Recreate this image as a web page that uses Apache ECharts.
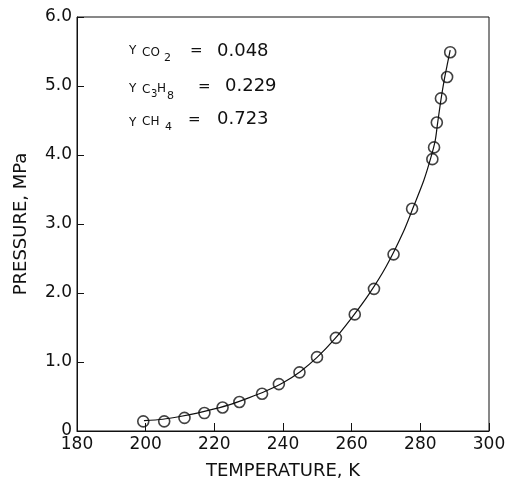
<!DOCTYPE html>
<html>
<head>
<meta charset="utf-8">
<script src="https://cdn.jsdelivr.net/npm/echarts@6/dist/echarts.min.js"></script>
<style>
  html, body { margin: 0; padding: 0; background: #fff; }
  #chart { width: 506px; height: 480px; }
</style>
</head>
<body>
<div id="chart"></div>
<script>
// measured points (temperature K, pressure MPa)
var tempK = [199.3, 205.4, 211.3, 217.1, 222.4, 227.3, 233.9, 238.8, 244.8, 249.9, 255.4,
             260.9, 266.5, 272.2, 277.6, 283.5, 284.0, 284.8, 286.0, 287.8, 288.7];
var pressMPa = [0.14, 0.14, 0.19, 0.26, 0.34, 0.42, 0.54, 0.68, 0.85, 1.07, 1.35,
                1.69, 2.06, 2.56, 3.22, 3.94, 4.11, 4.47, 4.82, 5.13, 5.49];

// fitted curve
var curveT = [199.5, 205, 210, 215, 220, 225, 230, 235, 240, 245, 250, 255, 260, 265, 270,
              275, 278, 281, 283, 284.3, 285, 286, 287, 288, 288.7];
var curveP = [0.15, 0.17, 0.21, 0.26, 0.32, 0.39, 0.48, 0.58, 0.70, 0.86, 1.07, 1.33, 1.64, 1.98, 2.38,
              2.88, 3.25, 3.63, 3.95, 4.20, 4.45, 4.80, 5.10, 5.35, 5.52];

var xTicks = [180, 200, 220, 240, 260, 280, 300];
var yTicks = [0, 1, 2, 3, 4, 5, 6];
var fractions = ['0.048', '0.229', '0.723'];

var font = 'DejaVu Sans';
var ink = '#111';

var chart = echarts.init(document.getElementById('chart'));

function txt(s, x, y, size) {
    return {
        type: 'text', left: x, top: y,
        style: { text: s, font: size + 'px "' + font + '"', fill: ink }
    };
}

var notes = [
    // y_CO2
    txt('Y', 129, 45, 12), txt('CO', 142, 47, 12), txt('2', 164, 53, 11),
    txt('=', 190, 44, 15), txt(fractions[0], 217, 42, 18),
    // y_C3H8
    txt('Y', 129, 83, 12), txt('C', 142, 84, 12), txt('3', 151, 89, 10),
    txt('H', 157, 83, 12), txt('8', 167, 91, 11),
    txt('=', 198, 80, 15), txt(fractions[1], 225, 77, 18),
    // y_CH4
    txt('Y', 129, 117, 12), txt('CH', 142, 116, 12), txt('4', 165, 122, 11),
    txt('=', 188, 113, 15), txt(fractions[2], 217, 110, 18)
];

var option = {
    animation: false,
    backgroundColor: '#fff',
    grid: {
        left: 77, right: 17, top: 17, bottom: 49,
        outerBoundsMode: 'none',
        show: true, borderColor: ink, borderWidth: 1
    },
    xAxis: {
        type: 'value', min: 180, max: 300, interval: 20,
        name: 'TEMPERATURE, K', nameLocation: 'middle', nameGap: 31,
        nameTextStyle: { fontFamily: font, fontSize: 18, color: ink },
        axisLine: { show: true, lineStyle: { color: ink, width: 1 } },
        axisTick: { show: true, inside: true, length: 8, lineStyle: { color: ink } },
        axisLabel: {
            fontFamily: font, fontSize: 17, color: ink, margin: 5,
            formatter: function (v) { return xTicks.indexOf(v) >= 0 ? String(v) : ''; }
        },
        splitLine: { show: false }
    },
    yAxis: {
        type: 'value', min: 0, max: 6, interval: 1,
        name: 'PRESSURE, MPa', nameLocation: 'middle', nameGap: 47,
        nameTextStyle: { fontFamily: font, fontSize: 18, color: ink },
        axisLine: { show: true, lineStyle: { color: ink, width: 1 } },
        axisTick: { show: true, inside: true, length: 7, lineStyle: { color: ink } },
        axisLabel: {
            fontFamily: font, fontSize: 17, color: ink, margin: 5,
            formatter: function (v) {
                if (yTicks.indexOf(v) < 0) return '';
                return v === 0 ? '0' : v.toFixed(1);
            }
        },
        splitLine: { show: false }
    },
    series: [
        {
            type: 'line',
            data: curveT.map(function (t, i) { return [t, curveP[i]]; }),
            smooth: 0.3,
            showSymbol: false,
            lineStyle: { color: ink, width: 1.2 },
            z: 2
        },
        {
            type: 'scatter',
            data: tempK.map(function (t, i) { return [t, pressMPa[i]]; }),
            symbol: 'circle',
            symbolSize: 11,
            itemStyle: { color: 'rgba(255,255,255,0)', borderColor: ink, borderWidth: 1.6 },
            z: 3
        }
    ],
    graphic: notes
};

chart.setOption(option);
</script>
</body>
</html>
